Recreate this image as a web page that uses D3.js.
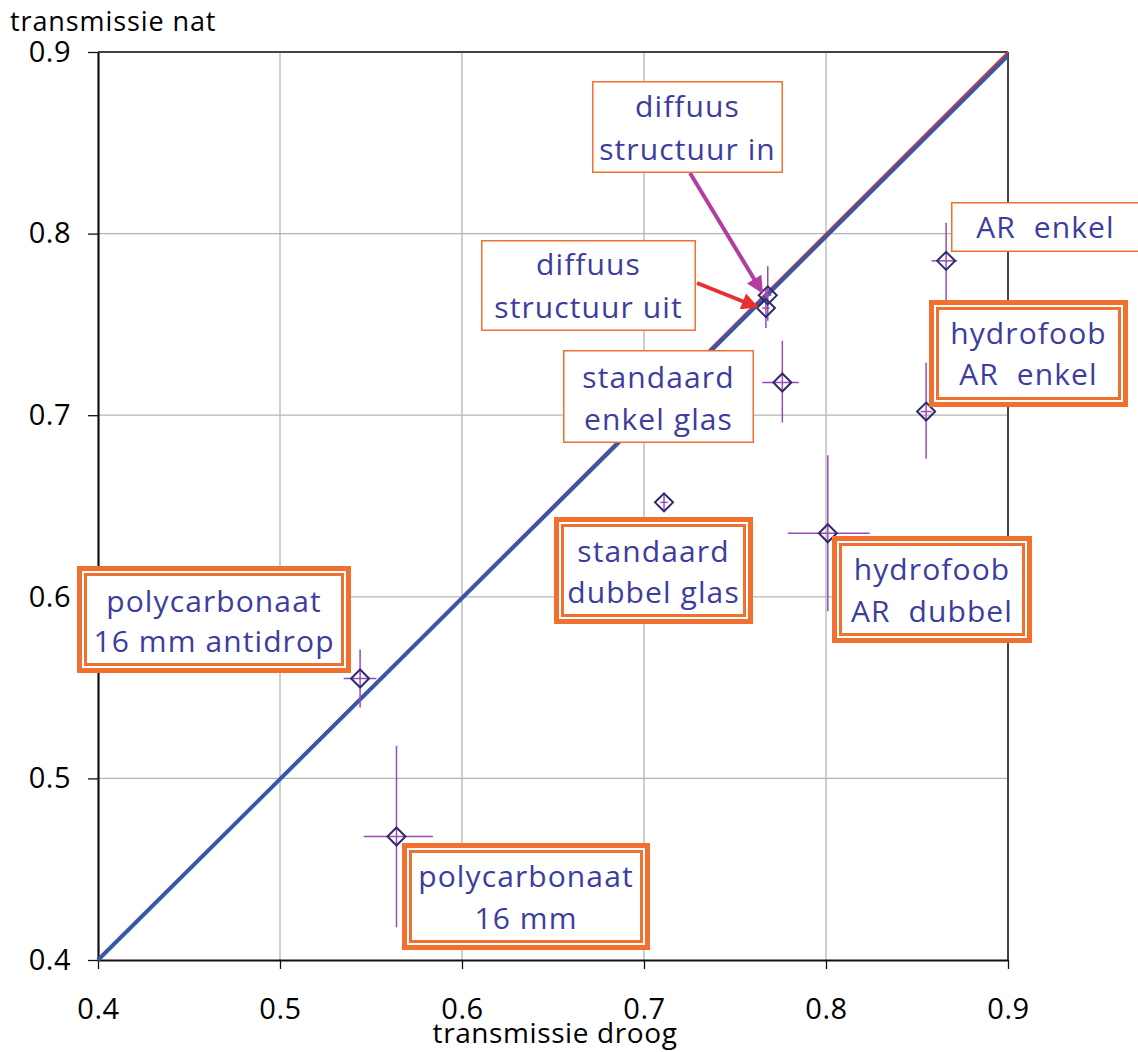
<!DOCTYPE html>
<html>
<head>
<meta charset="utf-8">
<script src="https://cdn.jsdelivr.net/npm/d3@7"></script>
<style>
  html, body { margin: 0; padding: 0; background: #fff; }
  svg { display: block; }
  text { font-family: "Open Sans", "Noto Sans", sans-serif; }
</style>
</head>
<body>
<svg id="chart" width="1138" height="1052"></svg>
<script>
// ---------- data ----------
const names   = ["diffuus structuur in", "diffuus structuur uit", "standaard enkel glas", "AR enkel",
                 "hydrofoob AR enkel", "standaard dubbel glas", "hydrofoob AR dubbel",
                 "polycarbonaat 16 mm antidrop", "polycarbonaat 16 mm"];
const dry     = [0.768, 0.767, 0.776, 0.866, 0.855, 0.711, 0.801, 0.544, 0.564];
const wet     = [0.766, 0.759, 0.718, 0.785, 0.702, 0.652, 0.635, 0.555, 0.468];
const dryLow  = [0.766, 0.765, 0.765, 0.858, 0.852, 0.709, 0.779, 0.535, 0.546];
const dryHigh = [0.770, 0.769, 0.785, 0.872, 0.858, 0.713, 0.824, 0.553, 0.584];
const wetLow  = [0.752, 0.748, 0.696, 0.763, 0.676, 0.648, 0.592, 0.539, 0.418];
const wetHigh = [0.782, 0.770, 0.741, 0.806, 0.729, 0.656, 0.678, 0.571, 0.518];
const tickValues = [0.4, 0.5, 0.6, 0.7, 0.8, 0.9];
const identityLine = [[0.4, 0.4], [0.9, 0.9]];
const fitLine = [[0.4, 0.4], [0.9, 0.898]];

// ---------- layout (annotation boxes, pixels) ----------
const boxes = [
  {lines: ["diffuus", "structuur in"], x0: 592, x1: 783, y0: 81, y1: 173, base: [117, 160], dbl: false},
  {lines: ["diffuus", "structuur uit"], x0: 481, x1: 696, y0: 240, y1: 331, base: [275, 318], dbl: false},
  {lines: ["standaard", "enkel glas"], x0: 563, x1: 754, y0: 350, y1: 443, base: [388, 430], dbl: false},
  {lines: ["AR  enkel"], x0: 951, x1: 1140, y0: 202, y1: 252, base: [238], dbl: false},
  {lines: ["hydrofoob", "AR  enkel"], x0: 929, x1: 1128, y0: 300, y1: 407, base: [344, 385], dbl: true},
  {lines: ["standaard", "dubbel glas"], x0: 554, x1: 753, y0: 517, y1: 624, base: [562, 603], dbl: true},
  {lines: ["hydrofoob", "AR  dubbel"], x0: 832, x1: 1032, y0: 536, y1: 643, base: [580, 622], dbl: true},
  {lines: ["polycarbonaat", "16 mm antidrop"], x0: 77, x1: 351, y0: 566, y1: 673, base: [612, 652], dbl: true},
  {lines: ["polycarbonaat", "16 mm"], x0: 402, x1: 650, y0: 843, y1: 950, base: [887, 929], dbl: true}
];

const m = {left: 98, right: 1008, top: 52, bottom: 960};
const svg = d3.select("#chart");

const x = d3.scaleLinear().domain([0.4, 0.9]).range([m.left, m.right]);
const y = d3.scaleLinear().domain([0.4, 0.9]).range([m.bottom, m.top]);

// grid
const grid = svg.append("g");
grid.selectAll("line.gx").data(tickValues.slice(1, -1)).join("line")
  .attr("x1", d => x(d)).attr("x2", d => x(d)).attr("y1", m.top).attr("y2", m.bottom)
  .attr("stroke", "#b4b4b4").attr("stroke-width", 1.3);
grid.selectAll("line.gy").data(tickValues.slice(1, -1)).join("line")
  .attr("y1", d => y(d)).attr("y2", d => y(d)).attr("x1", m.left).attr("x2", m.right)
  .attr("stroke", "#b4b4b4").attr("stroke-width", 1.3);

// frame top/right
svg.append("line").attr("x1", m.left).attr("x2", m.right).attr("y1", m.top).attr("y2", m.top)
  .attr("stroke", "#444").attr("stroke-width", 2);
svg.append("line").attr("x1", m.right).attr("x2", m.right).attr("y1", m.top).attr("y2", m.bottom)
  .attr("stroke", "#444").attr("stroke-width", 2);

// axes
const xAxis = svg.append("g").attr("transform", `translate(0,${m.bottom})`)
  .call(d3.axisBottom(x).tickValues(tickValues).tickSize(9).tickSizeOuter(0).tickPadding(29).tickFormat(d3.format(".1f")));
const yAxis = svg.append("g").attr("transform", `translate(${m.left},0)`)
  .call(d3.axisLeft(y).tickValues(tickValues).tickSize(10).tickSizeOuter(0).tickPadding(17).tickFormat(d3.format(".1f")));
[xAxis, yAxis].forEach(a => {
  a.select(".domain").attr("stroke", "#111").attr("stroke-width", 2.2);
  a.selectAll(".tick line").attr("stroke", "#111").attr("stroke-width", 1.3);
  a.selectAll(".tick text").attr("font-size", 29).attr("fill", "#000").attr("letter-spacing", 0.5)
    .style("font-family", "'Open Sans', sans-serif");
});

// diagonal lines
const lineGen = d3.line().x(d => x(d[0])).y(d => y(d[1]));
svg.append("path").attr("d", lineGen(identityLine)).attr("stroke", "#e03030").attr("stroke-width", 2).attr("fill", "none");
svg.append("path").attr("d", lineGen(fitLine)).attr("stroke", "#3a56a8").attr("stroke-width", 4).attr("fill", "none");

// error bars
const pts = names.map((n, i) => ({n, x: dry[i], y: wet[i], xl: dryLow[i], xh: dryHigh[i], yl: wetLow[i], yh: wetHigh[i]}));
const eb = svg.append("g").attr("stroke", "#9a4cb8").attr("stroke-width", 1.5);
eb.selectAll("line.v").data(pts).join("line")
  .attr("x1", d => x(d.x)).attr("x2", d => x(d.x)).attr("y1", d => y(d.yl)).attr("y2", d => y(d.yh));
eb.selectAll("line.h").data(pts).join("line")
  .attr("x1", d => x(d.xl)).attr("x2", d => x(d.xh)).attr("y1", d => y(d.y)).attr("y2", d => y(d.y));

// diamonds
svg.append("g").selectAll("path").data(pts).join("path")
  .attr("d", d => { const cx = x(d.x), cy = y(d.y), r = 9;
    return `M${cx},${cy - r}L${cx + r},${cy}L${cx},${cy + r}L${cx - r},${cy}Z`; })
  .attr("fill", "none").attr("stroke", "#2e2a6e").attr("stroke-width", 2);

// arrows
const defs = svg.append("defs");
function marker(id, color) {
  defs.append("marker").attr("id", id).attr("viewBox", "0 0 10 10").attr("refX", 9).attr("refY", 5)
    .attr("markerWidth", 5).attr("markerHeight", 4.2).attr("markerUnits", "strokeWidth").attr("orient", "auto")
    .append("path").attr("d", "M0,0L10,5L0,10Z").attr("fill", color);
}
marker("mIn", "#b23ea0");
marker("mOut", "#e83030");
svg.append("line").attr("x1", 690).attr("y1", 173).attr("x2", 762).attr("y2", 292)
  .attr("stroke", "#b23ea0").attr("stroke-width", 4).attr("marker-end", "url(#mIn)");
svg.append("line").attr("x1", 697).attr("y1", 283).attr("x2", 757).attr("y2", 307)
  .attr("stroke", "#e83030").attr("stroke-width", 4).attr("marker-end", "url(#mOut)");

// annotation boxes
const orange = "#f07030";
const bg = svg.append("g");
boxes.forEach(b => {
  const g = bg.append("g");
  if (b.dbl) {
    g.append("rect").attr("x", b.x0 + 2.5).attr("y", b.y0 + 2.5).attr("width", b.x1 - b.x0 - 5).attr("height", b.y1 - b.y0 - 5)
      .attr("fill", "#fff").attr("stroke", orange).attr("stroke-width", 5);
    g.append("rect").attr("x", b.x0 + 8.5).attr("y", b.y0 + 8.5).attr("width", b.x1 - b.x0 - 17).attr("height", b.y1 - b.y0 - 17)
      .attr("fill", "none").attr("stroke", orange).attr("stroke-width", 3);
  } else {
    g.append("rect").attr("x", b.x0 + 0.75).attr("y", b.y0 + 0.75).attr("width", b.x1 - b.x0 - 1.5).attr("height", b.y1 - b.y0 - 1.5)
      .attr("fill", "#fff").attr("stroke", orange).attr("stroke-width", 1.5);
  }
  b.lines.forEach((t, i) => {
    g.append("text").attr("x", (b.x0 + b.x1) / 2).attr("y", b.base[i]).attr("text-anchor", "middle")
      .attr("font-size", 30).attr("fill", "#3d3d9e").attr("letter-spacing", 1.1)
      .style("white-space", "pre").attr("xml:space", "preserve").text(t);
  });
});

// axis titles
svg.append("text").attr("x", 10).attr("y", 31).attr("font-size", 27).attr("fill", "#000")
  .attr("letter-spacing", 0.9).text("transmissie nat");
svg.append("text").attr("x", 555).attr("y", 1043).attr("text-anchor", "middle").attr("font-size", 28).attr("fill", "#000")
  .attr("letter-spacing", 0.6).text("transmissie droog");
</script>
</body>
</html>
